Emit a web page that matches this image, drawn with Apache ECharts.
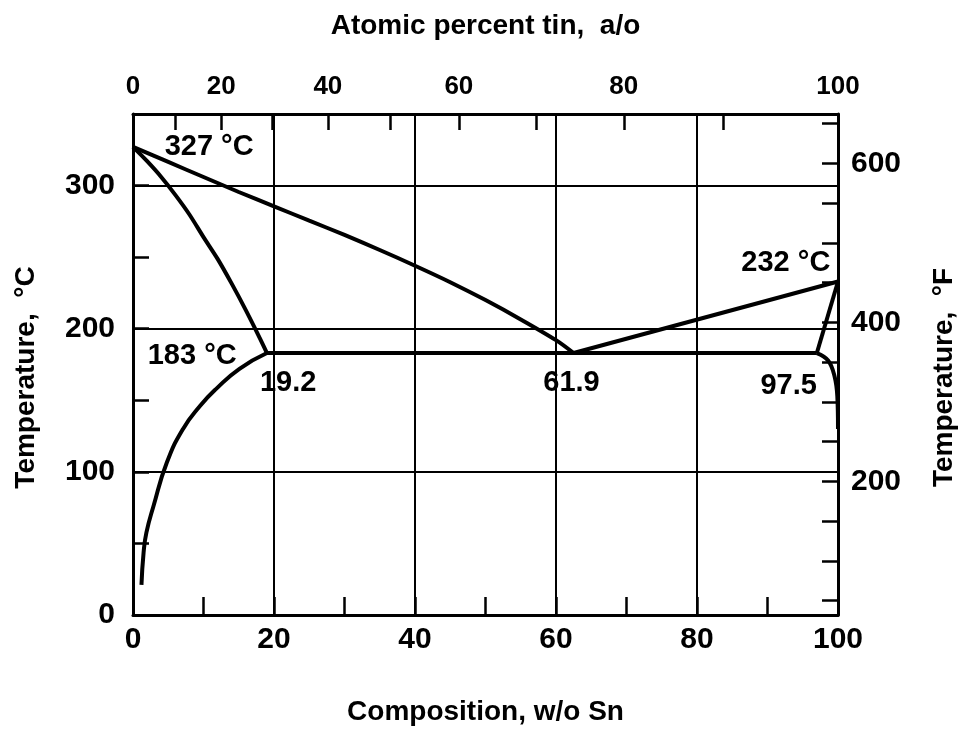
<!DOCTYPE html>
<html>
<head>
<meta charset="utf-8">
<script src="https://cdn.jsdelivr.net/npm/echarts@6/dist/echarts.min.js"></script>
<style>
  html, body { margin: 0; padding: 0; background: #fff; }
  #main { width: 966px; height: 735px; }
</style>
</head>
<body>
<div id="main"></div>
<script>
// phase boundaries, [w/o Sn, °C]
var liquidusLeft = [[0, 327], [5, 316.5], [10, 306], [15, 295.5], [20, 285.5], [25, 275.5], [30, 265.5], [35, 255], [40, 244], [45, 232.5], [50, 220], [55, 206.5], [60, 192], [62.5, 183]];
var liquidusRight = [[62.5, 183], [100, 233]];
var solidusLeft = [[0, 327], [2, 317], [4, 306], [6, 293.5], [8, 279.8], [10, 264], [12, 248.8], [14, 231.5], [16, 213], [18, 193.3], [19, 183]];
var solvusLeft = [[19, 183], [15.1, 172], [11.8, 158], [9.5, 146], [7.1, 130], [4.8, 106.5], [2.9, 76], [1.9, 57.5], [1.5, 43.5], [1.2, 21]];
var eutectic = [[19, 183], [97, 183]];
var solidusRight = [[97, 183], [100, 233]];
var solvusRight = [[97, 183], [98.6, 177.8], [99.5, 167], [99.9, 153], [100, 130]];

// annotations
var noteText = ['327 °C', '232 °C', '183 °C', '19.2', '61.9', '97.5'];
var notePos = [[10.8, 326.7], [92.6, 245.6], [8.4, 180.7], [22.0, 162.3], [62.2, 161.8], [93.0, 160.2]];

// ticks
var wtTicks = [10, 20, 30, 40, 50, 60, 70, 80, 90];
var wtLabels = [0, 20, 40, 60, 80, 100];
var atTicks = [10, 20, 30, 40, 50, 60, 70, 80, 90];
var atLabels = [0, 20, 40, 60, 80, 100];
var cTicks = [50, 100, 150, 200, 250, 300];
var cLabels = [0, 100, 200, 300];
var fTicks = [50, 100, 150, 200, 250, 300, 350, 400, 450, 500, 550, 600, 650];
var fLabels = [200, 400, 600];
var gridX = [20, 40, 60, 80];
var gridY = [100, 200, 300];

// unit conversions for the secondary axes
function atToWt(a) { var s = a * 118.71, p = (100 - a) * 207.2; return s / (s + p) * 100; }
function wtToAt(w) { var s = w / 118.71, p = (100 - w) / 207.2; return s / (s + p) * 100; }
function fToC(f) { return (f - 32) * 5 / 9; }
function cToF(c) { return c * 9 / 5 + 32; }

var font = '"Liberation Sans", Arial, Helvetica, sans-serif';
var black = '#000';
var axisLine = { show: true, onZero: false, lineStyle: { color: black, width: 3 } };

function tick(vals, len) {
  return { show: true, inside: true, length: len, customValues: vals, lineStyle: { color: black, width: 2.5 } };
}
function lbl(vals, size, margin, fmt) {
  var o = { customValues: vals, color: black, fontFamily: font, fontWeight: 'bold', fontSize: size, margin: margin };
  if (fmt) o.formatter = fmt;
  return o;
}
var nameStyle = { color: black, fontFamily: font, fontWeight: 'bold', fontSize: 28 };
var vNameStyle = { color: black, fontFamily: font, fontWeight: 'bold', fontSize: 28, padding: [0, 26, 0, 0] };

function curve(data, smooth) {
  return {
    type: 'line', data: data, smooth: smooth, showSymbol: false, silent: true,
    lineStyle: { color: black, width: 4 }, z: 3
  };
}

var series = [
  curve(liquidusLeft, 0.3),
  curve(liquidusRight, false),
  curve(solidusLeft, 0.3),
  curve(solvusLeft, 0.5),
  curve(eutectic, false),
  curve(solidusRight, false),
  curve(solvusRight, 0.4),
  {
    type: 'custom', data: notePos, silent: true, z: 4,
    renderItem: function (params, api) {
      var p = api.coord([api.value(0), api.value(1)]);
      return {
        type: 'text', x: p[0], y: p[1],
        style: {
          text: noteText[params.dataIndex], fill: black,
          fontFamily: font, fontWeight: 'bold', fontSize: 29,
          align: 'center', verticalAlign: 'middle'
        }
      };
    }
  }
];
series[0].markLine = {
  silent: true, symbol: ['none', 'none'], animation: false,
  label: { show: false },
  lineStyle: { color: black, width: 2, type: 'solid' },
  data: gridX.map(function (v) { return { xAxis: v }; }).concat(gridY.map(function (v) { return { yAxis: v }; }))
};

var chart = echarts.init(document.getElementById('main'));
chart.setOption({
  animation: false,
  backgroundColor: '#fff',
  grid: { left: 133, right: 126, top: 114, bottom: 120 },
  xAxis: [
    {
      type: 'value', position: 'bottom', min: 0, max: 100,
      axisLine: axisLine, splitLine: { show: false },
      axisTick: tick(wtTicks, 18),
      axisLabel: lbl(wtLabels, 30, 10),
      name: 'Composition, w/o Sn', nameLocation: 'middle', nameGap: 83, nameTextStyle: nameStyle
    },
    {
      type: 'value', position: 'top', min: 0, max: 100,
      axisLine: axisLine, splitLine: { show: false },
      axisTick: tick(atTicks.map(atToWt), 16),
      axisLabel: lbl(atLabels.map(atToWt), 26, 14, function (v) { return Math.round(wtToAt(v)); }),
      name: 'Atomic percent tin,  a/o', nameLocation: 'middle', nameGap: 74, nameTextStyle: nameStyle
    }
  ],
  yAxis: [
    {
      type: 'value', position: 'left', min: 0, max: 350,
      axisLine: axisLine, splitLine: { show: false },
      axisTick: tick(cTicks, 16),
      axisLabel: lbl(cLabels, 30, 18),
      name: 'Temperature,  °C', nameLocation: 'middle', nameGap: 93, nameTextStyle: vNameStyle
    },
    {
      type: 'value', position: 'right', min: 0, max: 350,
      axisLine: axisLine, splitLine: { show: false },
      axisTick: tick(fTicks.map(fToC), 16),
      axisLabel: lbl(fLabels.map(fToC), 30, 13, function (v) { return Math.round(cToF(v)); }),
      name: 'Temperature,  °F', nameLocation: 'middle', nameGap: 92, nameTextStyle: vNameStyle
    }
  ],
  series: series
});
</script>
</body>
</html>
